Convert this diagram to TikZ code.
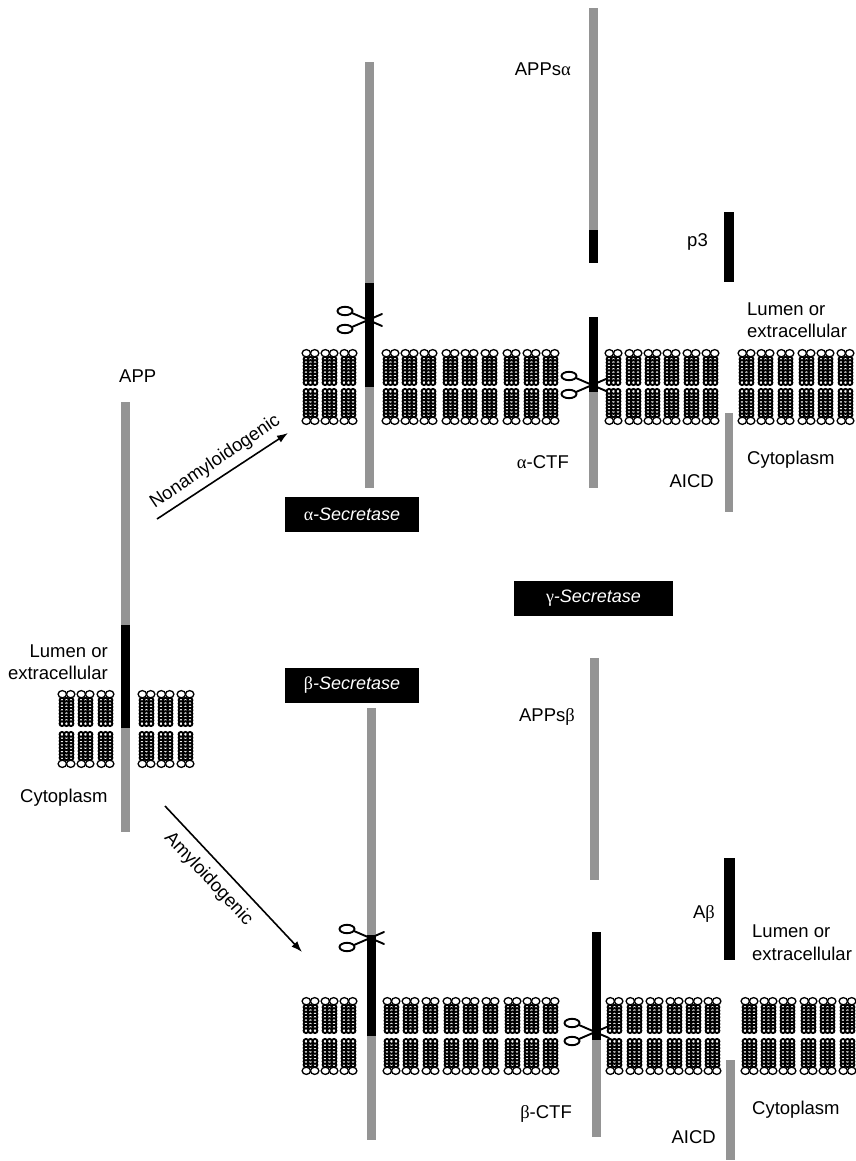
\documentclass[tikz,border=0pt]{standalone}
\usepackage{fontspec}
\setmainfont{Liberation Sans}
\newfontfamily\grk{Liberation Serif}
\usetikzlibrary{arrows.meta}

\tikzset{
  lbl/.style={font=\fontsize{18.5}{22}\selectfont, inner sep=0pt},
  enz/.style={fill=black, text=white, font=\fontsize{18}{20}\selectfont\itshape,
              minimum height=35pt, inner sep=0pt},
  gbar/.style={fill=black!42},
  kbar/.style={fill=black},
  lhead/.style={draw=black, fill=white, line width=1.3pt},
  ltail/.style={draw=black, fill=white, line width=1.9pt},
  blade/.style={line width=1.9pt, line cap=round},
  route/.style={line width=1.6pt, -{Latex[length=11pt,width=8pt]}},
}
\newcommand\gk[1]{{\upshape\grk #1}}

% one phospholipid pair: tails as packed circles, heads on the outer face
\newcommand\lipunit[3]{% #1 left x, #2 outer y, #3 direction (1 = inward downwards)
  \foreach \rr in {0,...,7}{
    \foreach \cc in {0,1,2}{
      \path[ltail] ({#1+4.0+4.5*\cc},{#2+#3*(10.2+3.35*\rr)}) circle[radius=2.4];
    }
  }
  \foreach \cc in {0,1}{
    \path[lhead] ({#1+4.3+8.4*\cc},{#2+#3*4.2}) ellipse[x radius=4.2, y radius=3.6];
  }
}
% a bilayer column: upper and lower leaflet
\newcommand\bilayer[3]{\lipunit{#1}{#2}{1}\lipunit{#1}{#3}{-1}}

% scissors with the pivot at (#1,#2)
\newcommand\cutter[2]{%
  \draw[blade] ({#1-21},{#2-9}) ellipse[x radius=7.5, y radius=4.2];
  \draw[blade] ({#1-21},{#2+9}) ellipse[x radius=7.5, y radius=4.2];
  \draw[blade] ({#1-14},{#2-7}) -- ({#1+16},{#2+6});
  \draw[blade] ({#1-14},{#2+7}) -- ({#1+16},{#2-6});
}

\begin{document}
\begin{tikzpicture}[x=1pt,y=-1pt]
\useasboundingbox (0,0) rectangle (855,1161);

% ---------------- APP in the membrane ----------------
\foreach \bx in {58,77,97,138,157,177}{\bilayer{\bx}{690}{768}}
\fill[gbar] (121,402) rectangle (130,625);
\fill[kbar] (121,625) rectangle (130,728);
\fill[gbar] (121,728) rectangle (130,832);
\node[lbl, anchor=base west] (app) at (119,382) {APP};
\node[lbl, anchor=base east] (lumA) at (108,657) {Lumen or};
\node[lbl, anchor=base east] (extA) at (108,679) {extracellular};
\node[lbl, anchor=base west] (cytA) at (20,802) {Cytoplasm};

% ---------------- pathway arrows ----------------
\coordinate (nonS) at (157,519);
\coordinate (nonE) at (288,433);
\draw[route] (nonS) -- (nonE);
\node[lbl, rotate=34, anchor=base] (nonL) at (218,466) {Nonamyloidogenic};
\coordinate (amyS) at (165,806);
\coordinate (amyE) at (302,952);
\draw[route] (amyS) -- (amyE);
\node[lbl, rotate=-47, anchor=base] (amyL) at (205,882) {Amyloidogenic};

% ---------------- nonamyloidogenic membrane ----------------
\foreach \bx in {302,321,340,382,401,420,442,461,481,503,523,542,
                 605,625,644,663,683,702,738,757,777,798,817,837}{\bilayer{\bx}{349}{425}}
% full APP before alpha cleavage
\fill[gbar] (365,62) rectangle (374,283);
\fill[kbar] (365,283) rectangle (374,387);
\fill[gbar] (365,387) rectangle (374,488);
\cutter{366}{320}
% products
\fill[gbar] (589,8) rectangle (598,230);
\fill[kbar] (589,230) rectangle (598,263);
\fill[kbar] (589,317) rectangle (598,392);
\fill[gbar] (589,392) rectangle (598,488);
\cutter{590}{385}
\fill[kbar] (724,212) rectangle (734,282);
\fill[gbar] (725,413) rectangle (733,512);
\node[lbl, anchor=base east] (appsa) at (571,76) {APPs\gk{α}};
\node[lbl, anchor=base east] (actf) at (569,468) {\gk{α}-CTF};
\node[lbl, anchor=base east] (p3) at (708,246) {p3};
\node[lbl, anchor=base west] (lumB) at (747,315) {Lumen or};
\node[lbl, anchor=base west] (extB) at (747,337) {extracellular};
\node[lbl, anchor=base west] (cytB) at (747,464) {Cytoplasm};
\node[lbl, anchor=base east] (aicdA) at (714,487) {AICD};

% ---------------- secretases ----------------
\node[enz, minimum width=134pt] (asec) at (352,514.5) {\gk{α}-Secretase};
\node[enz, minimum width=159pt] (gsec) at (593.5,598.5) {\gk{γ}-Secretase};
\node[enz, minimum width=134pt] (bsec) at (352,685.5) {\gk{β}-Secretase};

% ---------------- amyloidogenic membrane ----------------
\foreach \bx in {302,321,340,383,402,422,443,462,482,504,523,542,
                 606,626,646,666,685,704,741,760,779,800,819,839}{\bilayer{\bx}{997}{1075}}
\fill[gbar] (367,708) rectangle (376,935);
\fill[kbar] (367,935) rectangle (376,1036);
\fill[gbar] (367,1036) rectangle (376,1140);
\cutter{368}{938}
\fill[gbar] (590,658) rectangle (599,880);
\fill[kbar] (592,932) rectangle (601,1040);
\fill[gbar] (592,1040) rectangle (601,1137);
\cutter{593}{1032}
\fill[kbar] (724,858) rectangle (735,960);
\fill[gbar] (726,1060) rectangle (735,1160);
\node[lbl, anchor=base east] (appsb) at (575,721) {APPs\gk{β}};
\node[lbl, anchor=base east] (bctf) at (572,1118) {\gk{β}-CTF};
\node[lbl, anchor=base east] (ab) at (715,918) {A\gk{β}};
\node[lbl, anchor=base west] (lumC) at (752,937) {Lumen or};
\node[lbl, anchor=base west] (extC) at (752,960) {extracellular};
\node[lbl, anchor=base west] (cytC) at (752,1114) {Cytoplasm};
\node[lbl, anchor=base east] (aicdB) at (716,1143) {AICD};
\end{tikzpicture}
\end{document}
